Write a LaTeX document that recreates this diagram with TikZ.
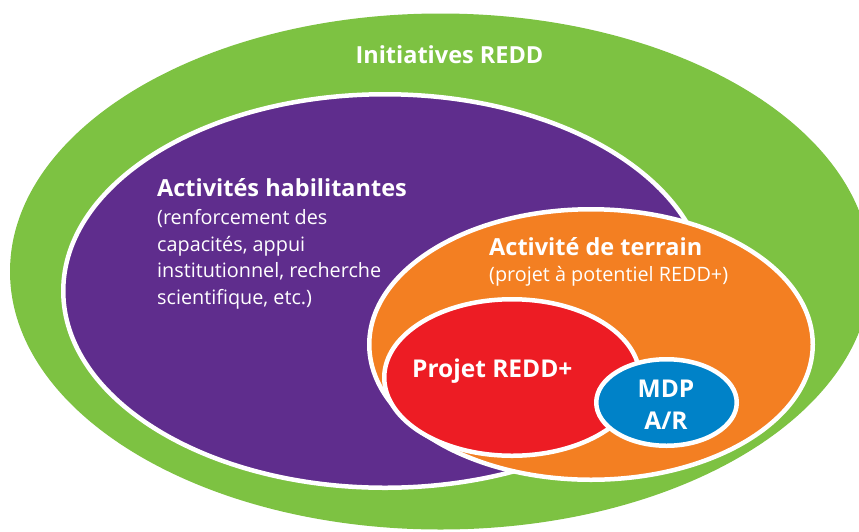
\documentclass[tikz,border=0pt]{standalone}
\usepackage{fontspec}
\setmainfont{Open Sans}
\usetikzlibrary{positioning}
\definecolor{leafgreen}{RGB}{125,194,66}
\definecolor{royalpurple}{RGB}{95,45,141}
\definecolor{fieldorange}{RGB}{243,127,34}
\definecolor{projectred}{RGB}{237,28,36}
\definecolor{cdmblue}{RGB}{0,130,200}

\begin{document}
\begin{tikzpicture}[x=1pt,y=-1pt]
        \tikzstyle{zone}=[draw=white, line width=4.5pt]
        \tikzstyle{head}=[text=white, inner sep=0pt, font=\fontsize{23.5}{28}\selectfont\bfseries]
        \tikzstyle{sub}=[text=white, inner sep=0pt, font=\fontsize{19.8}{26.4}\selectfont, align=left]
        \useasboundingbox (0,0) rectangle (859,531);
        \clip (0,0) rectangle (859,531);

        % Outer zone
        \fill[leafgreen] (440.5,271.5) ellipse [x radius=430.5, y radius=258];
        \node (redd)[head, anchor=base] at (449.5,63) {Initiatives REDD};

        % Enabling activities
        \filldraw[zone, fill=royalpurple] (385,291) ellipse [x radius=321.75, y radius=196.75];
        \node (habil)[head, anchor=base west] at (157,196.5) {Activités habilitantes};
        \node (habilsub)[sub, anchor=base west] at ([yshift=-107.5pt] habil.base west)
            {(renforcement des\\capacités, appui\\institutionnel, recherche\\scientifique, etc.)};

        % Field activity
        \filldraw[zone, fill=fieldorange] (591,344.5) ellipse [x radius=221.75, y radius=135.25];
        \node (terrain)[head, anchor=base west] at (489,255) {Activité de terrain};
        \node (terrainsub)[sub, anchor=base west] at ([yshift=-26pt] terrain.base west)
            {(projet à potentiel REDD+)};

        % Project and CDM
        \filldraw[zone, fill=projectred] (512,377.5) ellipse [x radius=127.75, y radius=78.25];
        \node (projet)[head, anchor=base west, font=\fontsize{24.5}{30}\selectfont\bfseries] at (412,377) {Projet REDD+};
        \filldraw[zone, fill=cdmblue] (666.5,402.5) ellipse [x radius=70.25, y radius=43.25];
        \node (mdp)[head, anchor=base, align=center, font=\fontsize{24.5}{32}\selectfont\bfseries] at (666,429) {MDP\\A/R};
\end{tikzpicture}
\end{document}
